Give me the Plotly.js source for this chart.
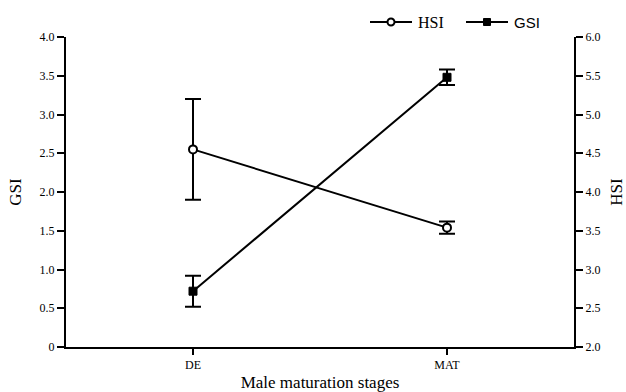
<!DOCTYPE html>
<html>
<head>
<meta charset="utf-8">
<script src="https://cdn.plot.ly/plotly-3.0.1.min.js"></script>
<style>html,body{margin:0;padding:0;background:#fff;}#chart{width:626px;height:392px;}</style>
</head>
<body>
<div id="chart"></div>
<script>
// Data
var stages = ['DE', 'MAT'];
var hsiMean = [4.55, 3.54];
var hsiErr = [0.65, 0.08];
var gsiMean = [0.72, 3.48];
var gsiErr = [0.2, 0.1];
var gsiTickVals = [0, 0.5, 1, 1.5, 2, 2.5, 3, 3.5, 4];
var gsiTickText = ['0', '0.5', '1.0', '1.5', '2.0', '2.5', '3.0', '3.5', '4.0'];
var hsiTickVals = [2, 2.5, 3, 3.5, 4, 4.5, 5, 5.5, 6];
var hsiTickText = ['2.0', '2.5', '3.0', '3.5', '4.0', '4.5', '5.0', '5.5', '6.0'];
var legendNames = ['HSI', 'GSI'];

var serif = '"Times New Roman", "Liberation Serif", Times, serif';
var sans = '"Liberation Sans", Arial, sans-serif';

// plot area in pixels (for placing the hand-drawn legend)
var L = 66, R = 52, T = 37, B = 45, W = 626, H = 392;
var pw = W - L - R, ph = H - T - B;
function px(x) { return (x - L) / pw; }
function py(y) { return (H - B - y) / ph; }

var traces = [
  {
    x: stages, y: hsiMean, yaxis: 'y2', type: 'scatter', mode: 'lines+markers',
    name: legendNames[0], showlegend: false,
    line: {color: '#000', width: 2},
    marker: {symbol: 'circle', size: 8, color: '#fff', line: {color: '#000', width: 2}},
    error_y: {type: 'data', array: hsiErr, visible: true, color: '#000', thickness: 2, width: 8}
  },
  {
    x: stages, y: gsiMean, yaxis: 'y', type: 'scatter', mode: 'lines+markers',
    name: legendNames[1], showlegend: false,
    line: {color: '#000', width: 2},
    marker: {symbol: 'square', size: 8, color: '#000', line: {color: '#000', width: 1}},
    error_y: {type: 'data', array: gsiErr, visible: true, color: '#000', thickness: 2, width: 8}
  }
];

var ly = 22;
var shapes = [
  {type: 'line', xref: 'paper', yref: 'paper', x0: px(370), x1: px(412), y0: py(ly), y1: py(ly), line: {color: '#000', width: 2}},
  {type: 'circle', xref: 'paper', yref: 'paper', x0: px(387.5), x1: px(394.5), y0: py(ly - 3.5), y1: py(ly + 3.5), fillcolor: '#fff', line: {color: '#000', width: 2}},
  {type: 'line', xref: 'paper', yref: 'paper', x0: px(466), x1: px(508), y0: py(ly), y1: py(ly), line: {color: '#000', width: 2}},
  {type: 'rect', xref: 'paper', yref: 'paper', x0: px(483.5), x1: px(490.5), y0: py(ly - 3.5), y1: py(ly + 3.5), fillcolor: '#000', line: {color: '#000', width: 1}}
];
var annotations = [
  {xref: 'paper', yref: 'paper', x: px(416), y: py(ly), xanchor: 'left', yanchor: 'middle', showarrow: false,
   text: legendNames[0], font: {family: serif, size: 16, color: '#000'}},
  {xref: 'paper', yref: 'paper', x: px(512), y: py(ly), xanchor: 'left', yanchor: 'middle', showarrow: false,
   text: legendNames[1], font: {family: sans, size: 15, color: '#000'}}
];

var layout = {
  width: W, height: H,
  margin: {l: L, r: R, t: T, b: B, autoexpand: false},
  paper_bgcolor: '#fff', plot_bgcolor: '#fff',
  font: {family: serif, color: '#000', size: 12},
  showlegend: false,
  shapes: shapes,
  annotations: annotations,
  xaxis: {
    type: 'category', range: [-0.5, 1.5], automargin: false,
    showline: true, linecolor: '#000', linewidth: 2,
    ticks: 'outside', ticklen: 6, tickwidth: 2, tickcolor: '#000',
    showgrid: false, zeroline: false,
    tickfont: {family: serif, size: 12},
    title: {text: 'Male maturation stages', font: {family: serif, size: 17}, standoff: 8}
  },
  yaxis: {
    range: [0, 4], tickvals: gsiTickVals, ticktext: gsiTickText, automargin: false,
    showline: true, linecolor: '#000', linewidth: 2,
    ticks: 'outside', ticklen: 7, tickwidth: 2, tickcolor: '#000',
    showgrid: false, zeroline: false,
    tickfont: {family: serif, size: 12},
    title: {text: 'GSI', font: {family: serif, size: 17}, standoff: 14}
  },
  yaxis2: {
    range: [2, 6], tickvals: hsiTickVals, ticktext: hsiTickText, automargin: false,
    overlaying: 'y', side: 'right',
    showline: true, linecolor: '#000', linewidth: 2,
    ticks: 'outside', ticklen: 7, tickwidth: 2, tickcolor: '#000',
    showgrid: false, zeroline: false,
    tickfont: {family: serif, size: 12},
    title: {text: 'HSI', font: {family: serif, size: 17}, standoff: 12}
  }
};

Plotly.newPlot('chart', traces, layout, {displayModeBar: false, staticPlot: true});
</script>
</body>
</html>
